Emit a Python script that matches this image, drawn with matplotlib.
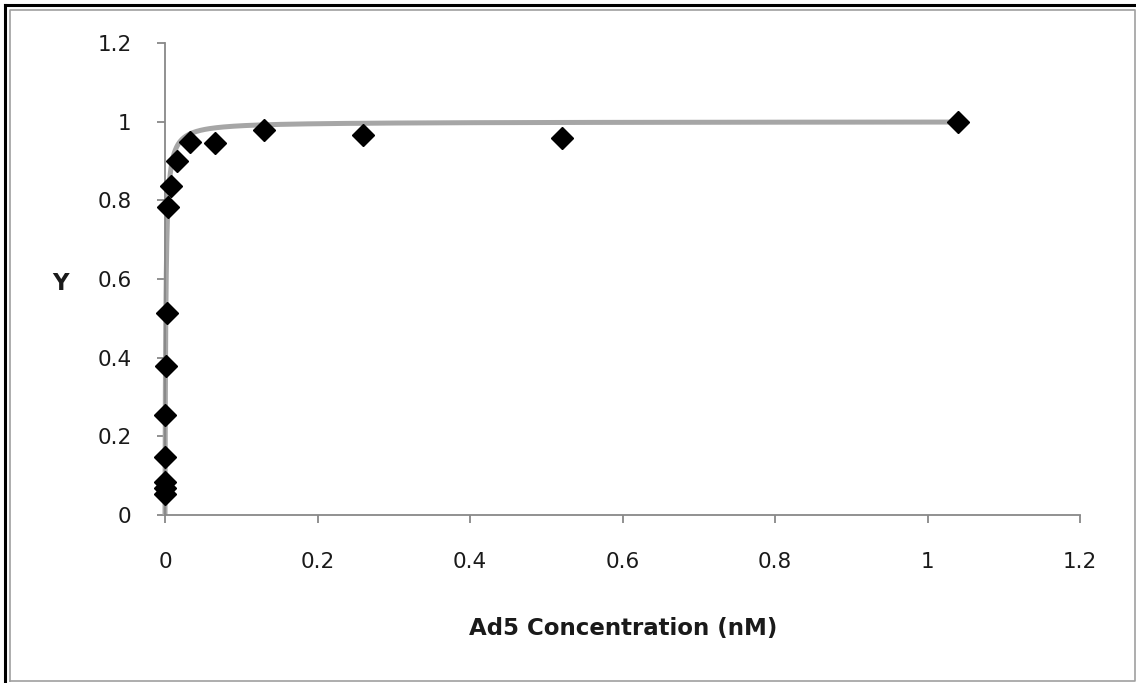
import numpy as np
import matplotlib
matplotlib.use("Agg")
import matplotlib.pyplot as plt
from matplotlib.lines import Line2D

# Data
conc_nM = [1.04, 0.52, 0.26, 0.13, 0.065, 0.0325, 0.01625, 0.008125,
           0.0040625, 0.00203, 0.00102, 0.00051, 0.000254, 0.000127,
           0.0000635, 0.0000318]
y_vals = [1.0, 0.958, 0.967, 0.978, 0.946, 0.948, 0.90, 0.836,
          0.783, 0.514, 0.379, 0.254, 0.147, 0.084, 0.069, 0.053]

# Fitted binding curve parameter (Y = x / (Kd + x))
kd_fit = 0.00105
fit_x_min, fit_x_max = 0.00001, 1.04

x_ticks = [0, 0.2, 0.4, 0.6, 0.8, 1, 1.2]
x_tick_labels = ["0", "0.2", "0.4", "0.6", "0.8", "1", "1.2"]
y_ticks = [0, 0.2, 0.4, 0.6, 0.8, 1, 1.2]
y_tick_labels = ["0", "0.2", "0.4", "0.6", "0.8", "1", "1.2"]

plt.rcParams['font.family'] = ['DejaVu Sans']

W, H = 1136, 683
fig = plt.figure(figsize=(W / 100, H / 100), dpi=100)
ax = fig.add_axes([165 / W, 1 - 515 / H, (1080 - 165) / W, (515 - 43) / H])

fx = np.geomspace(fit_x_min, fit_x_max, 600)
fy = fx / (kd_fit + fx)
fx = np.concatenate([[0], fx])
fy = np.concatenate([[0], fy])
ax.plot(fx, fy, color="#a6a6a6", lw=3.6, solid_capstyle="butt", zorder=2, clip_on=False)
ax.plot(conc_nM, y_vals, linestyle="none", marker="D", markersize=11.5,
        color="black", zorder=3, clip_on=False)

ax.set_xlim(0, 1.2)
ax.set_ylim(0, 1.2)
ax.set_xticks(x_ticks)
ax.set_xticklabels(x_tick_labels)
ax.set_yticks(y_ticks)
ax.set_yticklabels(y_tick_labels)

for s in ["top", "right"]:
    ax.spines[s].set_visible(False)
for s in ["left", "bottom"]:
    ax.spines[s].set_color("#888888")
    ax.spines[s].set_linewidth(1.3)

ax.tick_params(axis="x", direction="out", length=6, width=1.3, color="#888888",
               pad=21, labelsize=15.5, labelcolor="#1a1a1a")
ax.tick_params(axis="y", direction="out", length=6, width=1.3, color="#888888",
               pad=18, labelsize=15.5, labelcolor="#1a1a1a")

fig.text(623.5 / W, 1 - 635 / H, "Ad5 Concentration (nM)", ha="center", va="baseline",
         fontsize=16.5, fontweight="bold", color="#1a1a1a")
fig.text(60 / W, 1 - 290 / H, "Y", ha="center", va="baseline",
         fontsize=16.5, fontweight="bold", color="#1a1a1a")

# Frame around the chart
fig.add_artist(Line2D([5 / W, 5 / W], [0, 1 - 5 / H], transform=fig.transFigure,
                      color="black", lw=2.2))
fig.add_artist(Line2D([5 / W, 1], [1 - 5 / H, 1 - 5 / H], transform=fig.transFigure,
                      color="black", lw=2.2))
fig.add_artist(Line2D([10 / W, 10 / W, 1135 / W, 1135 / W, 10 / W],
                      [1 - 681 / H, 1 - 10 / H, 1 - 10 / H, 1 - 681 / H, 1 - 681 / H],
                      transform=fig.transFigure, color="#a0a0a0", lw=1.2))

fig.savefig("out.png", dpi=100)
